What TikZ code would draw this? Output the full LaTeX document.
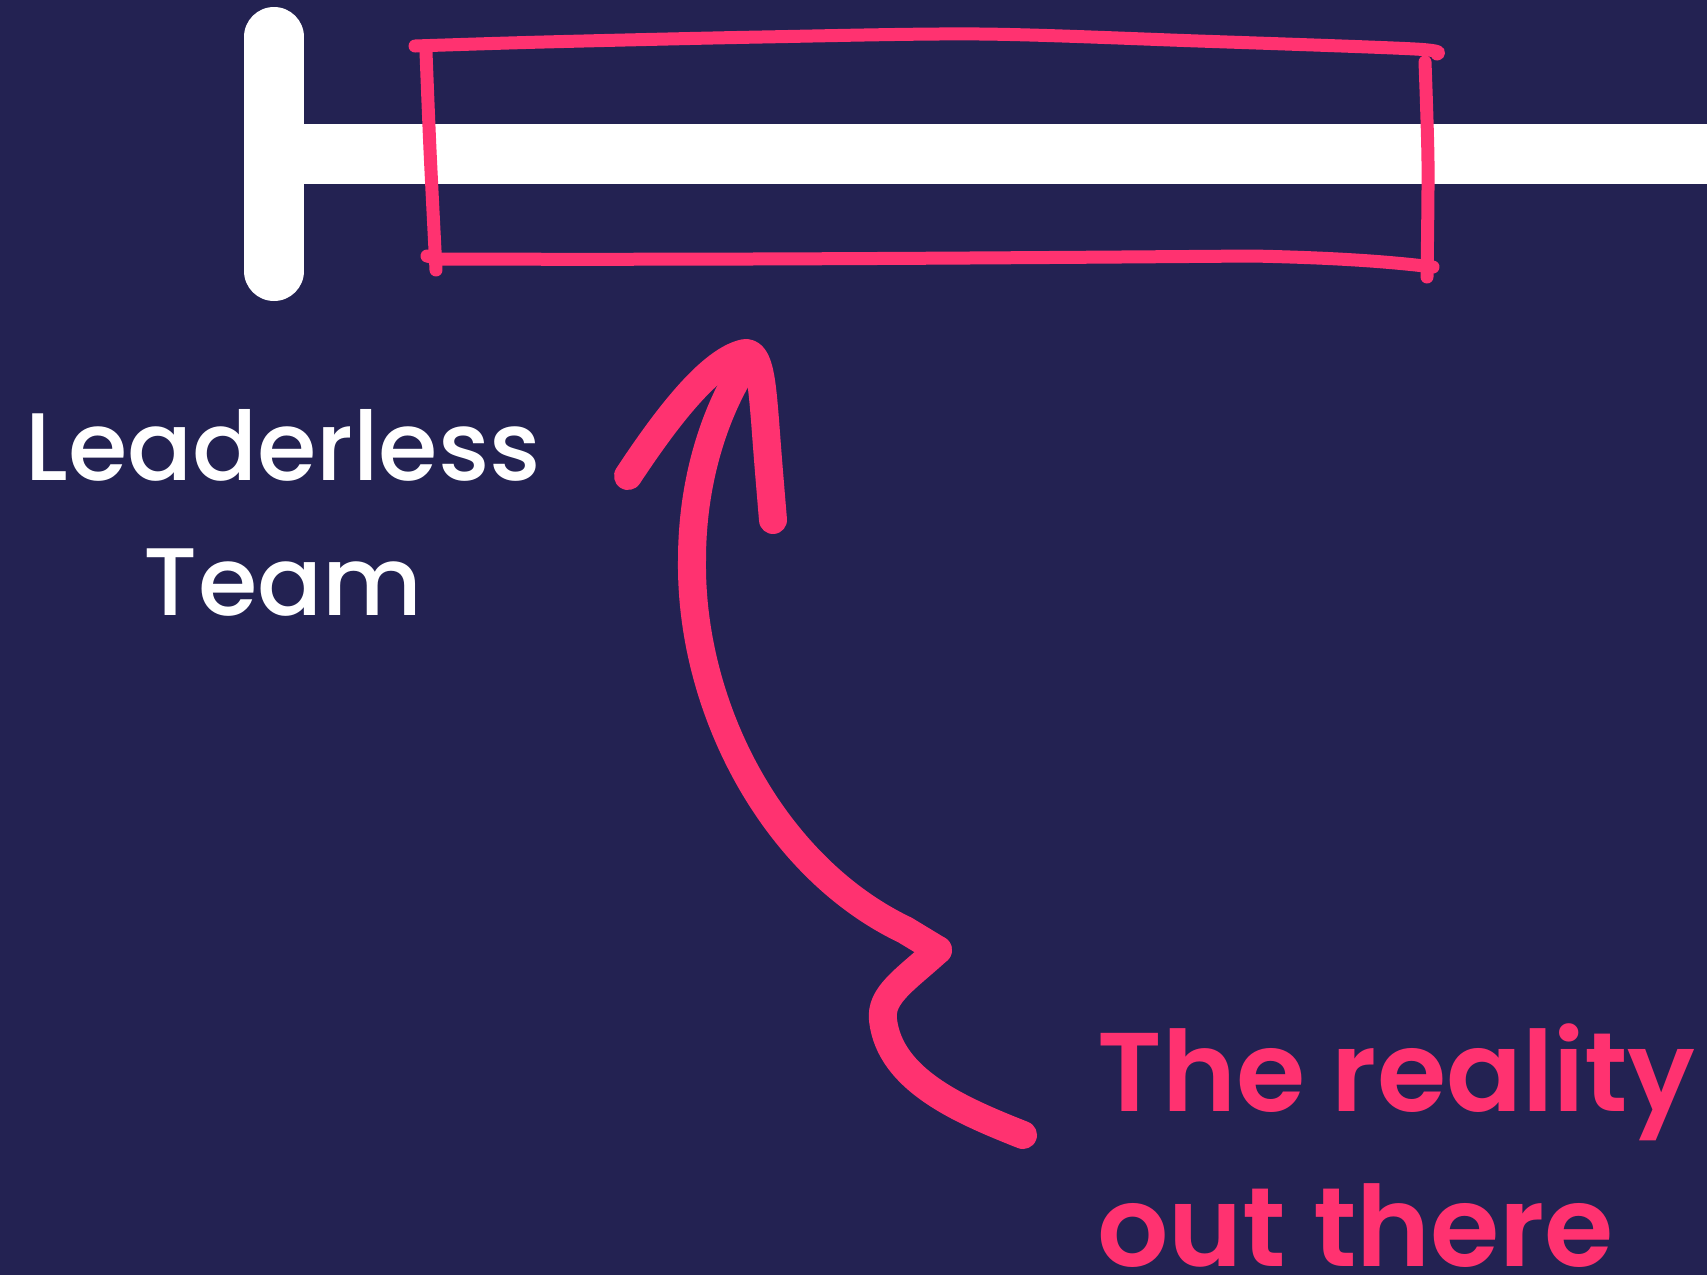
\documentclass[tikz,border=0pt]{standalone}
\usepackage{fontspec}
\setmainfont{Poppins}[UprightFont=* Medium, BoldFont=* SemiBold]
\usetikzlibrary{positioning}
\definecolor{navy}{HTML}{232252}
\definecolor{hotpink}{HTML}{FF3270}

\begin{document}
\begin{tikzpicture}[x=0.5pt, y=-0.5pt,
  bar/.style={draw=white, line width=30pt},
  scribble/.style={draw=hotpink, line width=6.5pt, line cap=round, line join=round},
  stroke/.style={draw=hotpink, line width=14pt, line cap=round, line join=round},
  lab/.style={text=white, font=\fontsize{48}{58}\selectfont, inner sep=0pt, anchor=base},
  call/.style={text=hotpink, font=\fontsize{56}{68}\selectfont\bfseries, inner sep=0pt, anchor=base west}]
\useasboundingbox (0,0) rectangle (1707,1275);
\fill[navy] (0,0) rectangle (1707,1275);
% timeline
\coordinate (top) at (274,37);
\coordinate (bot) at (274,271);
\coordinate (mid) at (274,154);
\coordinate (far) at (1707,154);
\draw[bar] (mid) -- (far);
\draw[bar, line cap=round] (top) -- (bot);
% hand-drawn box
\draw[scribble] plot[smooth, tension=0.5] coordinates {(415,46) (544,42) (762,37) (980,34) (1198,41) (1415,49) (1437,54)};
\draw[scribble] plot[smooth, tension=0.5] coordinates {(1425,62) (1428,163) (1427,277)};
\draw[scribble] (427,256) -- (440,259) .. controls (700,260) and (1000,258) .. (1252,256) .. controls (1350,258) and (1400,263) .. (1433,267);
\draw[scribble] plot[smooth, tension=0.5] coordinates {(426,52) (430,150) (436,270)};
% labels
\node[lab] (lead) at (283,480) {Leaderless};
\node[lab] (team) at (283,615) {Team};
\node[call] (real) at (1097,1111) {The reality};
\node[call] (out) at (1097,1266) {out there};
% arrow
\coordinate (tail) at (1023,1135);
\coordinate (kink) at (938,950);
\coordinate (bend) at (692,560);
\coordinate (tip) at (748,360);
\coordinate (barbl) at (628,476);
\coordinate (barbr) at (773,520);
\draw[stroke] (tail) .. controls (960,1110) and (890,1080) .. (883,1020)
  .. controls (880,995) and (905,980) .. (kink);
\draw[stroke] (kink) -- (905,930) .. controls (775,868) and (690,710) .. (bend)
  .. controls (692,480) and (715,410) .. (tip);
\draw[stroke] (barbl) .. controls (665,420) and (710,360) .. (745,353)
  .. controls (760,352) and (762,385) .. (765,420) .. controls (768,460) .. (barbr);
\end{tikzpicture}
\end{document}
